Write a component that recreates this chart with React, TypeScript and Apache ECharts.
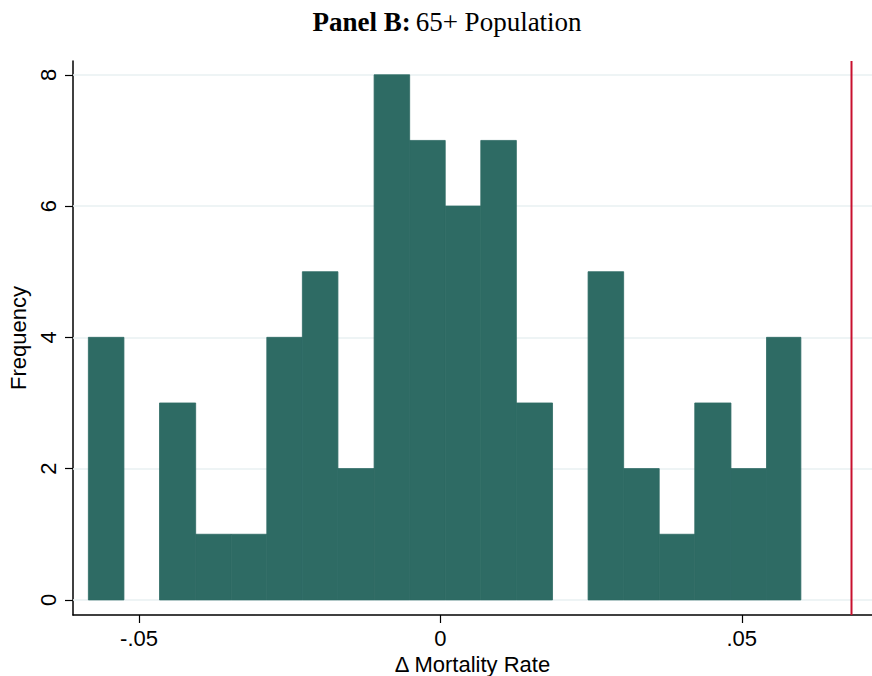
import React, { useEffect, useRef } from "react";
import * as echarts from "echarts";

const binLefts = [-0.0584, -0.0525, -0.0466, -0.0406, -0.0347, -0.0288, -0.0229, -0.0170, -0.0110, -0.0051, 0.0008, 0.0067, 0.0126, 0.0186, 0.0245, 0.0304, 0.0363, 0.0422, 0.0482, 0.0541];
const binRights = [-0.0525, -0.0466, -0.0406, -0.0347, -0.0288, -0.0229, -0.0170, -0.0110, -0.0051, 0.0008, 0.0067, 0.0126, 0.0186, 0.0245, 0.0304, 0.0363, 0.0422, 0.0482, 0.0541, 0.0598];
const counts = [4, 0, 3, 1, 1, 4, 5, 2, 8, 7, 6, 7, 3, 0, 5, 2, 1, 3, 2, 4];
const xTicks = [-0.05, 0, 0.05];
const yTicks = [0, 2, 4, 6, 8];
const refLineX = 0.0682;
const yMin = -0.23;
const yMax = 8.21;

const fmtX = (v: number) => {
  if (v === 0) return "0";
  const s = String(Math.abs(v)).replace(/^0/, "");
  return (v < 0 ? "-" : "") + s;
};

export default function App() {
  const ref = useRef<HTMLDivElement>(null);
  useEffect(() => {
    document.body.style.margin = "0";
    const chart = echarts.init(ref.current!, null, { renderer: "svg" });
    const data = binLefts.map((l, i) => [l, binRights[i], counts[i]]);
    chart.setOption({
      animation: false,
      backgroundColor: "#ffffff",
      title: {
        text: "{b|Panel B:} {r|65+ Population}",
        left: 442,
        textAlign: "center",
        top: 3,
        textStyle: {
          rich: {
            b: { fontFamily: "Liberation Serif", fontWeight: "bold", fontSize: 27, color: "#000" },
            r: { fontFamily: "Liberation Serif", fontWeight: "normal", fontSize: 27, color: "#000" },
          },
        },
      },
      grid: { left: 73, right: 0, top: 61, bottom: 61, outerBoundsMode: "none", containLabel: false },
      xAxis: {
        type: "value",
        min: -0.06095,
        max: 0.0716,
        name: "Δ Mortality Rate",
        nameLocation: "middle",
        nameGap: 37,
        nameTextStyle: { fontFamily: "Liberation Sans", fontSize: 22, color: "#000", lineHeight: 22 },
        axisLine: { show: true, onZero: false, lineStyle: { color: "#000", width: 1.5 } },
        axisTick: { show: true, length: 8, customValues: xTicks, lineStyle: { color: "#000", width: 1.2 } },
        axisLabel: { customValues: xTicks, formatter: fmtX, fontFamily: "Liberation Sans", fontSize: 22, color: "#000", margin: 12 },
        splitLine: { show: false },
      },
      yAxis: {
        type: "value",
        min: yMin,
        max: yMax,
        name: "Frequency",
        nameLocation: "middle",
        nameGap: 40,
        nameRotate: 90,
        nameTextStyle: { fontFamily: "Liberation Sans", fontSize: 22, color: "#000" },
        axisLine: { show: true, onZero: false, lineStyle: { color: "#000", width: 1.5 } },
        axisTick: { show: true, length: 8, customValues: yTicks, lineStyle: { color: "#000", width: 1.2 } },
        axisLabel: { customValues: yTicks, rotate: 90, fontFamily: "Liberation Sans", fontSize: 22, color: "#000", margin: 14 },
        splitLine: { show: false },
      },
      series: [
        {
          type: "custom",
          data,
          encode: { x: [0, 1], y: 2 },
          renderItem: (params: any, api: any) => {
            if (!api.value(2)) return null;
            const p1 = api.coord([api.value(0), api.value(2)]);
            const p2 = api.coord([api.value(1), 0]);
            return {
              type: "rect",
              shape: { x: p1[0], y: p1[1], width: p2[0] - p1[0], height: p2[1] - p1[1] },
              style: { fill: "#2e6b64", stroke: "#2e6b64", lineWidth: 0.8 },
            };
          },
          z: 3,
          markLine: {
            silent: true,
            symbol: "none",
            label: { show: false },
            animation: false,
            z: 1,
            data: yTicks.map((v) => ({ yAxis: v, lineStyle: { color: "#e8f0f2", width: 1.5, type: "solid" } })),
          },
        },
        {
          type: "line",
          silent: true,
          symbol: "none",
          z: 5,
          lineStyle: { color: "#c8102e", width: 2 },
          data: [
            [refLineX, yMin],
            [refLineX, yMax],
          ],
        },
      ],
    });
    return () => chart.dispose();
  }, []);
  return <div ref={ref} style={{ width: 872, height: 676 }} />;
}
